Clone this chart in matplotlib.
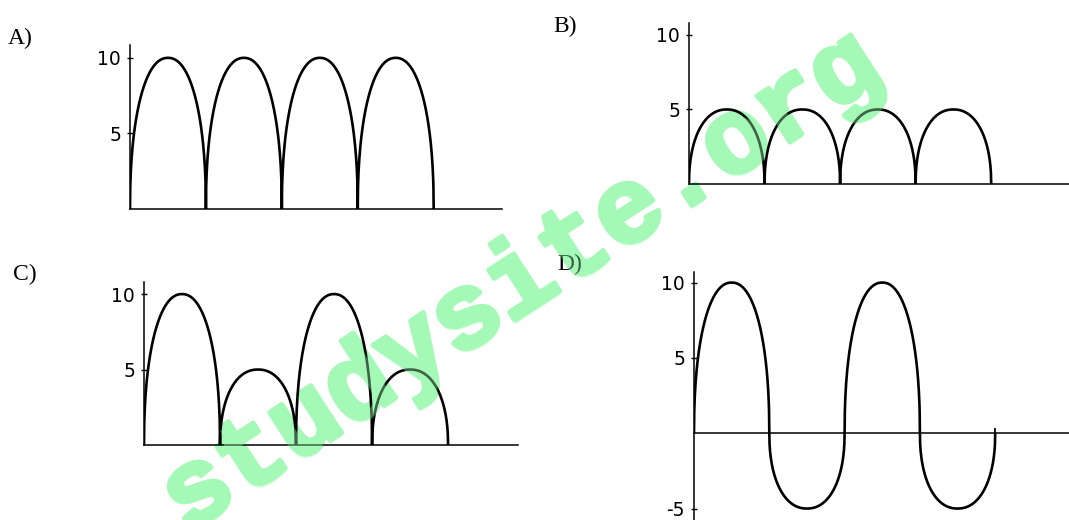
import matplotlib
matplotlib.use("Agg")
import matplotlib.pyplot as plt
import matplotlib.patheffects as pe
import numpy as np

W, H = 1069, 520

# peak value of every half cycle
amp_a = [10, 10, 10, 10]
amp_b = [5, 5, 5, 5]
amp_c = [10, 5, 10, 5]
amp_d = [10, -5, 10, -5]

ticks_a = [5, 10]
ticks_b = [5, 10]
ticks_c = [5, 10]
ticks_d = [-5, 5, 10]

labels = ["A)", "B)", "C)", "D)"]
mark = "studysite.org"
mint = "#a3f9b5"


def wave(amps, n=300):
    # each half cycle is a rounded lobe with near vertical sides
    xs, ys = [], []
    t = np.linspace(0, 1, n)
    lobe = (1 - np.abs(2 * t - 1) ** 2.2) ** (1 / 2.2)
    for i, a in enumerate(amps):
        xs.append(i + t)
        ys.append(a * lobe)
    return np.concatenate(xs), np.concatenate(ys)


def px_axes(fig, left, right, bottom, top):
    return fig.add_axes([left / W, 1 - bottom / H, (right - left) / W, (bottom - top) / H])


fig = plt.figure(figsize=(W / 100, H / 100), dpi=100)
fig.patch.set_facecolor("white")

panels = [
    # amps, ticks, left, right, bottom(px), top(px), xmax, ymin, ymax
    (amp_a, ticks_a, 130, 502, 209, 45, 4.9, 0, 10.85),
    (amp_b, ticks_b, 689, 1069, 184, 23, 5.03, 0, 10.8),
    (amp_c, ticks_c, 144, 518, 445, 282, 4.92, 0, 10.8),
    (amp_d, ticks_d, 694, 1069, 520, 272, 4.98, -5.76, 10.7),
]

for amps, ticks, l, r, b, t, xmax, ymin, ymax in panels:
    ax = px_axes(fig, l, r, b, t)
    x, y = wave(amps)
    ax.plot(x, y, color="black", lw=1.9, solid_capstyle="butt")
    if ymin < 0:
        # small closing stub at the end of the last lobe
        ax.plot([len(amps), len(amps)], [0, 0.3], color="black", lw=1.3)
    ax.set_xlim(0, xmax)
    ax.set_ylim(ymin, ymax)
    for s in ["top", "right"]:
        ax.spines[s].set_visible(False)
    ax.spines["left"].set_linewidth(1.1)
    ax.spines["bottom"].set_linewidth(1.1)
    ax.spines["bottom"].set_position(("data", 0))
    ax.set_xticks([])
    ax.set_yticks(ticks)
    ax.set_yticklabels([str(v) for v in ticks], fontsize=13.5, family="DejaVu Sans")
    ax.tick_params(axis="y", direction="inout", length=5, width=1, pad=4)
    ax.patch.set_alpha(0)

fig.text(8 / W, 1 - 44 / H, labels[0], fontsize=17, family="Liberation Serif")
fig.text(553 / W, 1 - 32 / H, labels[1], fontsize=17, family="Liberation Serif")
fig.text(13 / W, 1 - 280 / H, labels[2], fontsize=17, family="Liberation Serif")
fig.text(557 / W, 1 - 270 / H, labels[3], fontsize=17, family="Liberation Serif")

# watermark: opaque layer under the curves, faint layer on top tints them green
wm = dict(fontsize=77, family="Liberation Mono", fontweight="bold", color=mint,
          rotation=33, rotation_mode="anchor", ha="center", va="baseline")
fig.text(537 / W, 1 - 306 / H, mark, zorder=-1,
         path_effects=[pe.withStroke(linewidth=3.4, foreground=mint,
                                     joinstyle="round", capstyle="round")], **wm)
fig.text(537 / W, 1 - 306 / H, mark, zorder=10, alpha=0.4, **wm)

fig.savefig("out.png", dpi=100, facecolor="white")
